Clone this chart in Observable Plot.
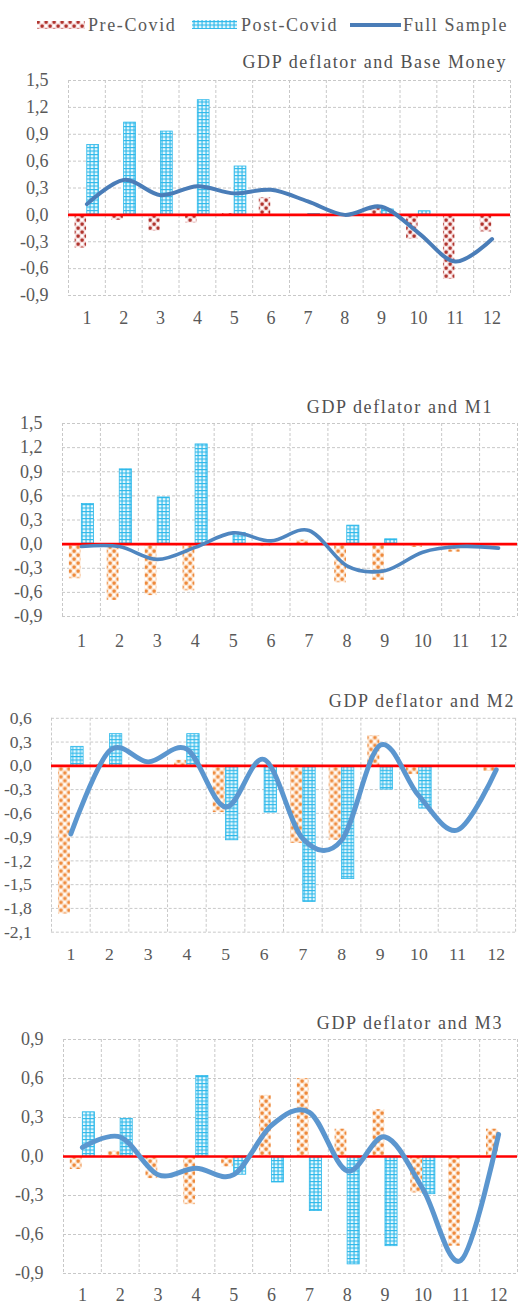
<!DOCTYPE html>
<html><head><meta charset="utf-8">
<script src="https://cdn.jsdelivr.net/npm/d3@7"></script>
<script src="https://cdn.jsdelivr.net/npm/@observablehq/plot@0.6"></script>
<style>
html,body{margin:0;padding:0;background:#fff;}
body{width:520px;height:1306px;position:relative;overflow:hidden;font-family:"Liberation Serif","DejaVu Serif",serif;}
.panel{position:absolute;left:0;}
.title{position:absolute;font-size:18px;letter-spacing:1.6px;color:#505050;white-space:nowrap;line-height:22px;}
</style></head><body>
<svg width="0" height="0" style="position:absolute">
<defs>
<pattern id="preR" width="8" height="8" patternUnits="userSpaceOnUse">
<rect width="8" height="8" fill="#f6dede"/>
<rect x="0.5" y="0.5" width="3.2" height="3.2" rx="1" fill="#b0342e"/>
<rect x="4.5" y="4.5" width="3.2" height="3.2" rx="1" fill="#b0342e"/>
<circle cx="6" cy="2" r="1.3" fill="#fff"/><circle cx="2" cy="6" r="1.3" fill="#fff"/>
</pattern>
<pattern id="preO" width="8" height="8" patternUnits="userSpaceOnUse">
<rect width="8" height="8" fill="#fde6d2"/>
<rect x="0.5" y="0.5" width="3.2" height="3.2" rx="1" fill="#ee8a3c"/>
<rect x="4.5" y="4.5" width="3.2" height="3.2" rx="1" fill="#ee8a3c"/>
<circle cx="6" cy="2" r="1.3" fill="#fff"/><circle cx="2" cy="6" r="1.3" fill="#fff"/>
</pattern>
<pattern id="postC" width="4" height="3.5" patternUnits="userSpaceOnUse">
<rect width="4" height="3.5" fill="#e6f8fd"/>
<rect x="0" y="0" width="4" height="1.1" fill="#2cb8ea"/>
<rect x="1.5" y="0" width="1.1" height="3.5" fill="#2cb8ea"/>
</pattern>
</defs></svg>

<svg id="legend" width="520" height="45" style="position:absolute;left:0;top:0" font-family="Liberation Serif, DejaVu Serif, serif" font-size="18" letter-spacing="1.6" fill="#595959">
<rect x="37" y="21" width="48" height="8" fill="url(#preR)"/>
<text x="88" y="31">Pre-Covid</text>
<rect x="192" y="20" width="45" height="9" fill="url(#postC)"/>
<text x="241" y="31">Post-Covid</text>
<line x1="350" x2="401" y1="25" y2="25" stroke="#4a7db8" stroke-width="4"/>
<text x="403" y="31">Full Sample</text>
</svg>

<script>
// ---- data ----
const categories = [1, 2, 3, 4, 5, 6, 7, 8, 9, 10, 11, 12];

const titles = ["GDP deflator and Base Money", "GDP deflator and M1", "GDP deflator and M2", "GDP deflator and M3"];

// Base Money
const bmPre  = [-0.37, -0.06, -0.18, -0.09, 0.015, 0.19, 0.0, -0.01, 0.10, -0.27, -0.72, -0.19];
const bmPost = [0.78, 1.03, 0.93, 1.28, 0.54, 0.0, 0.01, 0.0, 0.06, 0.04, 0.0, 0.0];
const bmFull = [0.12, 0.39, 0.22, 0.32, 0.24, 0.28, 0.15, 0.0, 0.09, -0.2, -0.52, -0.27];

// M1
const m1Pre  = [-0.43, -0.70, -0.64, -0.58, 0.0, -0.03, 0.05, -0.48, -0.45, -0.04, -0.10, -0.02];
const m1Post = [0.50, 0.93, 0.58, 1.24, 0.14, 0.0, 0.0, 0.23, 0.06, 0.0, 0.0, 0.0];
const m1Full = [-0.03, -0.03, -0.19, -0.04, 0.14, 0.04, 0.17, -0.27, -0.33, -0.10, -0.03, -0.05];

// M2
const m2Pre  = [-1.87, 0.02, 0.0, 0.07, -0.59, 0.0, -0.98, -0.94, 0.38, -0.11, -0.02, -0.07];
const m2Post = [0.24, 0.40, 0.0, 0.40, -0.94, -0.59, -1.72, -1.43, -0.30, -0.54, 0.0, 0.0];
const m2Full = [-0.86, 0.19, 0.05, 0.21, -0.52, 0.08, -0.92, -0.94, 0.26, -0.38, -0.81, -0.05];

// M3
const m3Pre  = [-0.10, 0.04, -0.17, -0.37, -0.08, 0.47, 0.60, 0.21, 0.36, -0.28, -0.69, 0.21];
const m3Post = [0.34, 0.29, 0.0, 0.62, -0.14, -0.20, -0.42, -0.83, -0.69, -0.29, 0.0, 0.0];
const m3Full = [0.07, 0.15, -0.14, -0.09, -0.14, 0.24, 0.34, -0.11, 0.15, -0.25, -0.80, 0.17];

const ticksA = [-0.9, -0.6, -0.3, 0.0, 0.3, 0.6, 0.9, 1.2, 1.5];
const ticksM2 = [-2.1, -1.8, -1.5, -1.2, -0.9, -0.6, -0.3, 0.0, 0.3, 0.6];
const ticksM3 = [-0.9, -0.6, -0.3, 0.0, 0.3, 0.6, 0.9];

// ---- layout ----
const panels = [
  {pre: bmPre, post: bmPost, full: bmFull, ticks: ticksA, preFill: "url(#preR)", lineColor: "#4a7db8", lineW: 4,
   top: 70, mt: 10, plotH: 215, mb: 35, ml: 68, mr: 10, width: 520, xpad: 16, titleRight: 13, titleY: 62},
  {pre: m1Pre, post: m1Post, full: m1Full, ticks: ticksA, preFill: "url(#preO)", lineColor: "#4f86c0", lineW: 3.6,
   top: 413, mt: 10, plotH: 193, mb: 35, ml: 62, mr: 3, width: 520, xpad: 18, titleRight: 27, titleY: 407},
  {pre: m2Pre, post: m2Post, full: m2Full, ticks: ticksM2, preFill: "url(#preO)", lineColor: "#5b96cf", lineW: 5,
   top: 708, mt: 10, plotH: 218, mb: 35, ml: 52, mr: 5, width: 530, xpad: 16, titleRight: 5, titleY: 701},
  {pre: m3Pre, post: m3Post, full: m3Full, ticks: ticksM3, preFill: "url(#preO)", lineColor: "#5b96cf", lineW: 5,
   top: 1027, mt: 12, plotH: 234, mb: 31, ml: 63, mr: 3, width: 520, xpad: 15, titleRight: 17, titleY: 1023}
];

const fmt = d => d.toFixed(1).replace(".", ",");
const bounds = categories.map(c => c - 0.5).concat([categories[categories.length - 1] + 0.5]);

panels.forEach((p, k) => {
  const rows = categories.map((m, i) => ({m, pre: p.pre[i], post: p.post[i], full: p.full[i]}));
  const chart = Plot.plot({
    width: p.width,
    height: p.mt + p.plotH + p.mb,
    marginTop: p.mt, marginBottom: p.mb, marginLeft: p.ml, marginRight: p.mr,
    style: {fontFamily: '"Liberation Serif","DejaVu Serif",serif', fontSize: "18px", color: "#595959", background: "transparent", overflow: "visible"},
    x: {domain: [0.5, 12.5], label: null},
    y: {domain: [p.ticks[0], p.ticks[p.ticks.length - 1]], label: null},
    marks: [
      Plot.ruleY(p.ticks, {stroke: "#c8c8c8", strokeDasharray: "3,2", strokeWidth: 1}),
      Plot.ruleX(bounds, {stroke: "#c8c8c8", strokeDasharray: "3,2", strokeWidth: 1}),
      Plot.rect(rows, {x1: d => d.m - 0.32, x2: d => d.m - 0.01, y1: 0, y2: "pre", fill: p.preFill}),
      Plot.rect(rows, {x1: d => d.m + 0.01, x2: d => d.m + 0.33, y1: 0, y2: "post", fill: "url(#postC)", stroke: "#2cb8ea", strokeWidth: 0.8}),
      Plot.ruleY([0], {stroke: "#ff0000", strokeWidth: 2.7}),
      Plot.line(rows, {x: "m", y: "full", curve: "cardinal", stroke: p.lineColor, strokeWidth: p.lineW, strokeLinecap: "round", strokeLinejoin: "round"}),
      Plot.axisX({ticks: categories, tickSize: 0, tickPadding: p.xpad, tickFormat: d => String(d), fill: "#595959", label: null}),
      Plot.axisY({ticks: p.ticks, tickSize: 0, tickPadding: 20, tickFormat: fmt, fill: "#595959", label: null})
    ]
  });
  const div = document.createElement("div");
  div.className = "panel";
  div.style.top = p.top + "px";
  div.appendChild(chart);
  document.body.appendChild(div);

  const t = document.createElement("div");
  t.className = "title";
  t.textContent = titles[k];
  t.style.right = p.titleRight + "px";
  t.style.top = (p.titleY - 11) + "px";
  document.body.appendChild(t);
});
</script>
</body></html>
